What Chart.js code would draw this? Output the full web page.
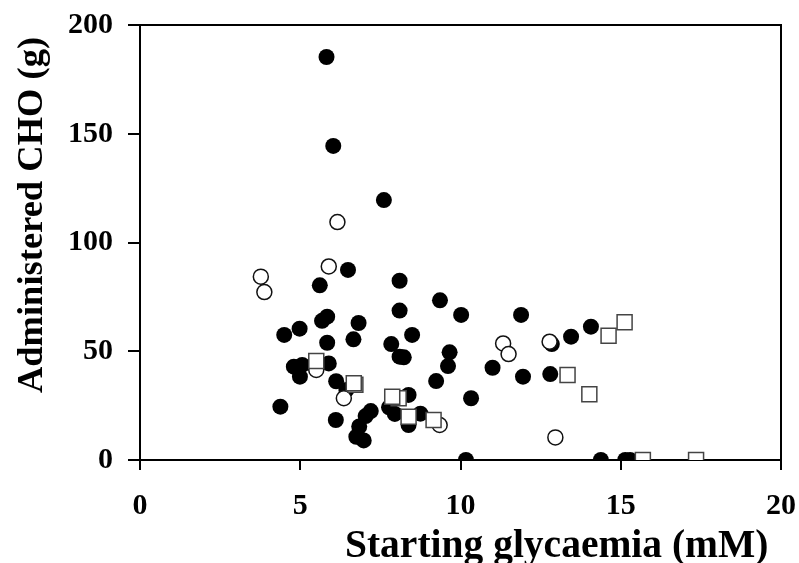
<!DOCTYPE html>
<html>
<head>
<meta charset="utf-8">
<script src="https://cdn.jsdelivr.net/npm/chart.js@4"></script>
<style>
  html, body { margin: 0; padding: 0; background: #ffffff; }
  #wrap { width: 799px; height: 563px; position: relative; }
</style>
</head>
<body>
<div id="wrap"><canvas id="c" width="799" height="563"></canvas></div>
<script>
// Tick labels
const xTicks = [0, 5, 10, 15, 20];
const yTicks = [0, 50, 100, 150, 200];
const xTitle = 'Starting glycaemia (mM)';
const yTitle = 'Administered CHO (g)';

// Filled circles
const filledX = [5.82, 6.03, 7.61, 6.49, 5.61, 8.10, 9.36, 8.10, 10.02, 11.89,
  5.84, 5.68, 6.82, 4.98, 4.50, 8.49, 5.84, 6.66, 7.84, 8.10,
  8.23, 4.80, 5.06, 4.99, 5.89, 6.12, 6.44, 9.24, 4.38, 6.11,
  7.20, 7.04, 6.84, 6.75, 6.98, 8.38, 7.77, 7.95, 8.38, 8.75,
  9.66, 9.61, 10.33, 11.00, 11.95, 12.85, 13.45, 14.07, 12.80, 10.17,
  14.38, 15.14, 15.29];
const filledY = [185.3, 144.4, 119.5, 87.4, 80.3, 82.4, 73.4, 68.7, 66.7, 66.7,
  65.9, 64.0, 63.0, 60.4, 57.5, 57.5, 53.9, 55.5, 53.3, 47.5,
  47.2, 42.9, 43.7, 38.3, 44.4, 36.2, 32.2, 36.3, 24.5, 18.4,
  22.5, 20.2, 15.4, 10.7, 9.0, 29.9, 24.2, 21.2, 16.1, 21.3,
  49.5, 43.2, 28.4, 42.4, 38.3, 53.3, 56.7, 61.3, 39.5, 0,
  0, 0, 0];

// Open circles
const openX = [6.16, 5.89, 3.77, 3.88, 5.50, 6.36, 9.35, 11.33, 11.50, 12.78, 12.96];
const openY = [109.4, 89.0, 84.3, 77.2, 41.4, 28.4, 16.1, 53.6, 48.7, 54.4, 10.4];

// Open squares
const squareX = [5.50, 6.72, 6.67, 8.07, 7.87, 8.38, 9.16, 13.34, 14.02, 14.62, 15.12, 15.69, 17.35];
const squareY = [45.5, 34.6, 35.3, 28.4, 29.1, 19.9, 18.4, 39.1, 30.2, 57.1, 63.3, 0, 0];

function pts(xs, ys) { return xs.map((x, i) => ({ x: x, y: ys[i] })); }

const FONT = '"Liberation Serif", "Times New Roman", serif';

const frame = {
  id: 'frame',
  afterDatasetsDraw(chart) {
    const a = chart.chartArea, ctx = chart.ctx;
    ctx.save();
    ctx.strokeStyle = '#000';
    ctx.lineWidth = 2;
    ctx.beginPath();
    ctx.moveTo(a.left, a.top);
    ctx.lineTo(a.right, a.top);
    ctx.lineTo(a.right, a.bottom);
    ctx.stroke();
    ctx.restore();
  },
  afterDraw(chart) {
    const ctx = chart.ctx;
    ctx.save();
    ctx.fillStyle = '#000';
    ctx.font = 'bold 39.5px ' + FONT;
    ctx.textAlign = 'left';
    ctx.textBaseline = 'alphabetic';
    ctx.fillText(xTitle, 345, 557);
    ctx.font = 'bold 36.5px ' + FONT;
    ctx.translate(42, 215);
    ctx.rotate(-Math.PI / 2);
    ctx.textAlign = 'center';
    ctx.fillText(yTitle, 0, 0);
    ctx.restore();
  }
};

new Chart(document.getElementById('c'), {
  type: 'scatter',
  data: {
    datasets: [
      {
        label: 'Squares',
        data: pts(squareX, squareY),
        pointStyle: 'rect',
        radius: 10.6,
        backgroundColor: '#ffffff',
        borderColor: '#444444',
        borderWidth: 1.5
      },
      {
        label: 'Open',
        data: pts(openX, openY),
        pointStyle: 'circle',
        radius: 7.5,
        backgroundColor: '#ffffff',
        borderColor: '#111111',
        borderWidth: 1.5
      },
      {
        label: 'Filled',
        data: pts(filledX, filledY),
        pointStyle: 'circle',
        radius: 8,
        backgroundColor: '#000000',
        borderColor: '#000000',
        borderWidth: 0
      }
    ]
  },
  options: {
    responsive: false,
    animation: false,
    devicePixelRatio: 1,
    layout: { padding: { top: 25, right: 18, left: 0, bottom: 0 } },
    plugins: {
      legend: { display: false },
      tooltip: { enabled: false }
    },
    scales: {
      x: {
        type: 'linear',
        min: 0, max: 20,
        afterFit(s) { s.height = 103; s.paddingLeft = 0; s.paddingRight = 0; },
        afterBuildTicks(s) { s.ticks = xTicks.map(v => ({ value: v })); },
        ticks: {
          color: '#000',
          font: { family: FONT, size: 30, weight: 'bold' },
          padding: 18,
          maxRotation: 0
        },
        grid: {
          drawOnChartArea: false,
          drawTicks: true,
          tickLength: 10,
          color: '#000',
          lineWidth: 2
        },
        border: { display: true, color: '#000', width: 2 }
      },
      y: {
        type: 'linear',
        min: 0, max: 200,
        afterFit(s) { s.width = 140; s.paddingTop = 0; s.paddingBottom = 0; },
        afterBuildTicks(s) { s.ticks = yTicks.map(v => ({ value: v })); },
        ticks: {
          color: '#000',
          font: { family: FONT, size: 30, weight: 'bold' },
          padding: 15
        },
        grid: {
          drawOnChartArea: false,
          drawTicks: true,
          tickLength: 12,
          color: '#000',
          lineWidth: 2
        },
        border: { display: true, color: '#000', width: 2 }
      }
    }
  },
  plugins: [frame]
});
</script>
</body>
</html>
